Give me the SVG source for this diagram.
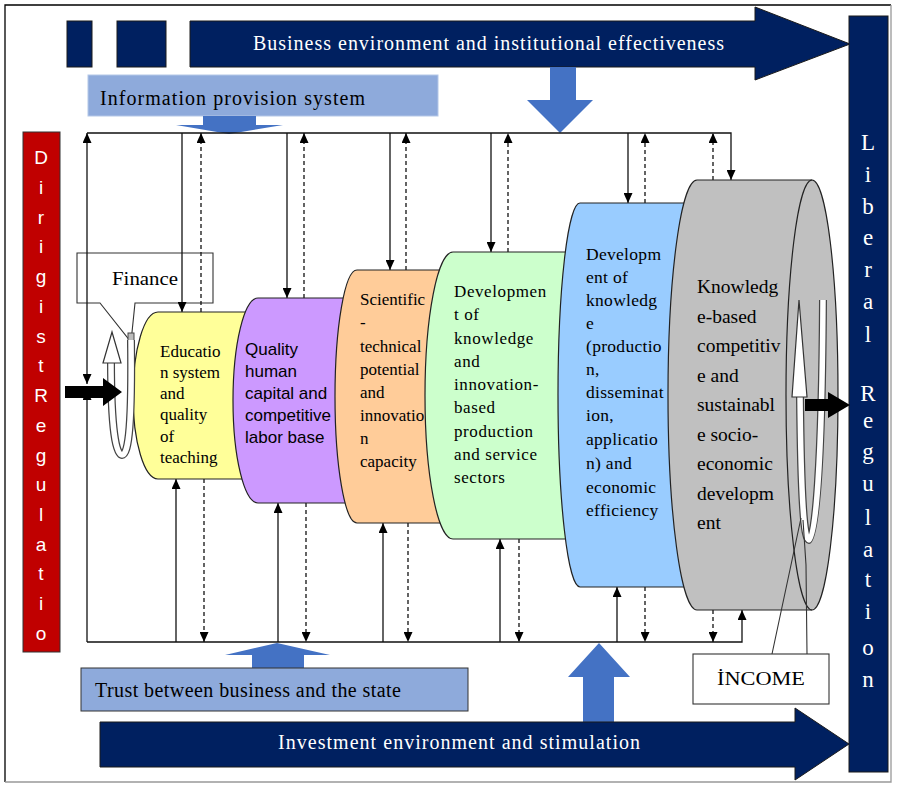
<svg xmlns="http://www.w3.org/2000/svg" width="899" height="786" viewBox="0 0 899 786">
<style>
.navy{fill:#002060;stroke:#1a1a1a;stroke-width:1}
.lb{fill:#8eaadb}
.ba{fill:#4472c4}
.ln{fill:none;stroke:#111;stroke-width:1.3}
.dl{fill:none;stroke:#111;stroke-width:1.3;stroke-dasharray:4,3}
.sh{stroke:#222;stroke-width:1.2}
.ser{font-family:"Liberation Serif",serif;fill:#000}
.sans{font-family:"Liberation Sans",sans-serif;fill:#000}
.wl{font-family:"Liberation Sans",sans-serif;fill:#fff;font-size:19px;text-anchor:middle}
.wr{font-family:"Liberation Serif",serif;fill:#fff;font-size:23px;text-anchor:middle}
.rib1{fill:none;stroke:#444;stroke-width:8}
.rib2{fill:none;stroke:#fff;stroke-width:5.5}
</style>
<defs>
<marker id="ah" viewBox="0 0 10 9" refX="10" refY="4.5" markerWidth="10" markerHeight="9" orient="auto-start-reverse" markerUnits="userSpaceOnUse"><path d="M0,0 L10,4.5 L0,9 z" fill="#000"/></marker>
</defs>
<rect width="899" height="786" fill="#fff"/>
<path d="M5,782 V5 H891" fill="none" stroke="#000" stroke-width="1.3"/>
<path d="M891,5 V782 H5" fill="none" stroke="#999" stroke-width="1.3"/>

<g id="business-environment">
<rect class="navy" x="67" y="21" width="25" height="46"/>
<rect class="navy" x="117" y="21" width="49" height="46"/>
<polygon class="navy" points="190,21 755,21 755,7 850,44 755,80 755,67 190,67"/>
<text x="253" y="50" font-family="Liberation Serif,serif" font-size="20" fill="#fff" textLength="471" lengthAdjust="spacing">Business environment and institutional effectiveness</text>
<polygon class="ba" points="550,67 576,67 576,100 593,100 560,133 527,100 550,100"/>
</g>

<g id="information-provision">
<rect class="lb" x="88" y="75" width="350" height="41" stroke="#b4c7e7" stroke-width="1"/>
<text class="ser" x="100" y="105" font-size="20" textLength="265" lengthAdjust="spacing">Information provision system</text>
<polygon class="ba" points="203,116 256,116 256,125 283,125 229,134 176,125 203,125"/>
</g>

<g id="dirigist-regulation">
<rect x="23" y="132" width="37" height="520" fill="#c00000" stroke="#333" stroke-width="1"/>
<text class="wl"><tspan x="41" y="164">D</tspan><tspan x="41" y="194">i</tspan><tspan x="41" y="224">r</tspan><tspan x="41" y="253">i</tspan><tspan x="41" y="283">g</tspan><tspan x="41" y="313">i</tspan><tspan x="41" y="343">s</tspan><tspan x="41" y="372">t</tspan><tspan x="41" y="402">R</tspan><tspan x="41" y="432">e</tspan><tspan x="41" y="462">g</tspan><tspan x="41" y="491">u</tspan><tspan x="41" y="521">l</tspan><tspan x="41" y="551">a</tspan><tspan x="41" y="580">t</tspan><tspan x="41" y="610">i</tspan><tspan x="41" y="640">o</tspan></text>
</g>

<g id="liberal-regulation">
<rect class="navy" x="849" y="16" width="39" height="756"/>
<text class="wr"><tspan x="868" y="150">L</tspan><tspan x="868" y="182">i</tspan><tspan x="868" y="214">b</tspan><tspan x="868" y="245">e</tspan><tspan x="868" y="277">r</tspan><tspan x="868" y="309">a</tspan><tspan x="868" y="342">l</tspan><tspan x="868" y="401">R</tspan><tspan x="868" y="428">e</tspan><tspan x="868" y="459">g</tspan><tspan x="868" y="491">u</tspan><tspan x="868" y="525">l</tspan><tspan x="868" y="557">a</tspan><tspan x="868" y="587">t</tspan><tspan x="868" y="619">i</tspan><tspan x="868" y="655">o</tspan><tspan x="868" y="687">n</tspan></text>
</g>

<g id="finance">
<path d="M77,253 H213 V303 H135 L131,342 L100,303 H77 Z" fill="#fff" stroke="#333" stroke-width="1.1"/>
<text class="ser" x="112" y="285" font-size="19" textLength="66" lengthAdjust="spacingAndGlyphs">Finance</text>
</g>

<g id="connectors">
<path class="ln" d="M87,384 V133" marker-start="url(#ah)" marker-end="url(#ah)"/>
<path class="ln" d="M87,642 V390" marker-end="url(#ah)"/>
<path class="ln" d="M87,133 H731 V180" marker-end="url(#ah)"/>
<path class="ln" d="M87,642 H742 V610" marker-end="url(#ah)"/>
<path class="ln" d="M182,133 V312" marker-end="url(#ah)"/>
<path class="dl" d="M201,312 V133" marker-end="url(#ah)"/>
<path class="ln" d="M287,133 V298" marker-end="url(#ah)"/>
<path class="dl" d="M304,298 V133" marker-end="url(#ah)"/>
<path class="ln" d="M390,133 V270" marker-end="url(#ah)"/>
<path class="dl" d="M406,270 V133" marker-end="url(#ah)"/>
<path class="ln" d="M491,133 V252" marker-end="url(#ah)"/>
<path class="dl" d="M508,252 V133" marker-end="url(#ah)"/>
<path class="ln" d="M628,133 V203" marker-end="url(#ah)"/>
<path class="dl" d="M645,203 V133" marker-end="url(#ah)"/>
<path class="dl" d="M713,180 V133" marker-end="url(#ah)"/>
<path class="ln" d="M176,642 V479" marker-end="url(#ah)"/>
<path class="dl" d="M204,479 V642" marker-end="url(#ah)"/>
<path class="ln" d="M278,642 V503" marker-end="url(#ah)"/>
<path class="dl" d="M306,503 V642" marker-end="url(#ah)"/>
<path class="ln" d="M383,642 V523" marker-end="url(#ah)"/>
<path class="dl" d="M408,523 V642" marker-end="url(#ah)"/>
<path class="ln" d="M500,642 V539" marker-end="url(#ah)"/>
<path class="dl" d="M519,539 V642" marker-end="url(#ah)"/>
<path class="ln" d="M617,642 V587" marker-end="url(#ah)"/>
<path class="dl" d="M645,587 V642" marker-end="url(#ah)"/>
<path class="dl" d="M713,610 V642" marker-end="url(#ah)"/>
</g>

<g id="education">
<path class="sh" fill="#ffff99" d="M158,312 H275 V479 H158 A25,83.5 0 0 1 158,312 Z"/>
<text class="ser" font-size="17"><tspan x="160" y="357">Educatio</tspan><tspan x="160" y="378">n system</tspan><tspan x="160" y="399">and</tspan><tspan x="160" y="420">quality</tspan><tspan x="160" y="442">of</tspan><tspan x="160" y="463">teaching</tspan></text>
</g>
<g id="human-capital">
<path class="sh" fill="#cc99ff" d="M258,298 H375 V503 H258 A25,102.5 0 0 1 258,298 Z"/>
<text class="sans" font-size="17"><tspan x="245" y="355">Quality</tspan><tspan x="245" y="377">human</tspan><tspan x="245" y="399">capital and</tspan><tspan x="245" y="421">competitive</tspan><tspan x="245" y="443">labor base</tspan></text>
</g>
<g id="scientific-technical">
<path class="sh" fill="#ffcc99" d="M357,270 H475 V523 H357 A22,126.5 0 0 1 357,270 Z"/>
<text class="ser" font-size="17"><tspan x="360" y="305">Scientific</tspan><tspan x="360" y="328">-</tspan><tspan x="360" y="352">technical</tspan><tspan x="360" y="375">potential</tspan><tspan x="360" y="398">and</tspan><tspan x="360" y="421">innovatio</tspan><tspan x="360" y="444">n</tspan><tspan x="360" y="467">capacity</tspan></text>
</g>
<g id="knowledge-sectors">
<path class="sh" fill="#ccffcc" d="M453,252 H605 V539 H453 A28,143.5 0 0 1 453,252 Z"/>
<text class="ser" font-size="17" letter-spacing="0.6"><tspan x="454" y="297">Developmen</tspan><tspan x="454" y="320">t of</tspan><tspan x="454" y="343.5">knowledge</tspan><tspan x="454" y="366.5">and</tspan><tspan x="454" y="390">innovation-</tspan><tspan x="454" y="413">based</tspan><tspan x="454" y="436.5">production</tspan><tspan x="454" y="460">and service</tspan><tspan x="454" y="483">sectors</tspan></text>
</g>
<g id="knowledge-efficiency">
<path class="sh" fill="#99ccff" d="M580,203 H725 V587 H580 A22,192 0 0 1 580,203 Z"/>
<text class="ser" font-size="17.5" letter-spacing="0.3"><tspan x="586" y="260">Developm</tspan><tspan x="586" y="283">ent of</tspan><tspan x="586" y="306">knowledg</tspan><tspan x="586" y="329">e</tspan><tspan x="586" y="352">(productio</tspan><tspan x="586" y="375">n,</tspan><tspan x="586" y="398">disseminat</tspan><tspan x="586" y="421">ion,</tspan><tspan x="586" y="445">applicatio</tspan><tspan x="586" y="469">n) and</tspan><tspan x="586" y="493">economic</tspan><tspan x="586" y="516">efficiency</tspan></text>
</g>
<g id="sustainable-development">
<path class="sh" fill="#c0c0c0" d="M697,180 H812 A26,215 0 0 1 812,610 H697 A29,215 0 0 1 697,180 Z"/>
<path class="sh" fill="none" d="M812,180 A26,215 0 0 0 812,610"/>
<text class="ser" font-size="19.5"><tspan x="697" y="293">Knowledg</tspan><tspan x="697" y="322.5">e-based</tspan><tspan x="697" y="352">competitiv</tspan><tspan x="697" y="381.5">e and</tspan><tspan x="697" y="411">sustainabl</tspan><tspan x="697" y="440.5">e socio-</tspan><tspan x="697" y="470">economic</tspan><tspan x="697" y="499.5">developm</tspan><tspan x="697" y="529">ent</tspan></text>
</g>

<g id="left-spring">
<rect x="128" y="333" width="6" height="14" fill="#bbb" stroke="#444" stroke-width="1"/>
<path class="rib1" d="M111,360 C111,430 116,455 122,455 C129,455 132,420 131,340"/>
<path class="rib2" d="M111,360 C111,430 116,455 122,455 C129,455 132,420 131,340"/>
<polygon points="112,332 103,363 121,363" fill="#fff" stroke="#333" stroke-width="1.2"/>
<polygon points="65,386 103,386 103,378 122,392 103,406 103,398 65,398" fill="#000"/>
</g>

<g id="right-spring">
<path class="rib1" d="M800,395 C801,500 804,540 809,540 C815,540 822,470 823,300"/>
<path class="rib2" d="M800,395 C801,500 804,540 809,540 C815,540 822,470 823,300"/>
<polygon points="799,300 792,397 807,397" fill="#fff" stroke="#333" stroke-width="1.2"/>
<polygon points="805,399 828,399 828,392 850,405 828,418 828,411 805,411" fill="#000"/>
</g>

<g id="income">
<path d="M772,654 L801,518 M807,654 L806,565 L803,520" fill="none" stroke="#333" stroke-width="1.1"/>
<rect x="693" y="654" width="136" height="50" fill="#fff" stroke="#333" stroke-width="1.1"/>
<text class="ser" x="717" y="685" font-size="19" textLength="88" lengthAdjust="spacingAndGlyphs">İNCOME</text>
</g>

<g id="investment-environment">
<polygon class="ba" points="583,725 583,677 568,677 599,643 630,677 614,677 614,725"/>
<polygon class="navy" points="100,722 795,722 795,708 849,744 795,780 795,767 100,767"/>
<text x="278" y="749" font-family="Liberation Serif,serif" font-size="20" fill="#fff" textLength="362" lengthAdjust="spacing">Investment environment and stimulation</text>
</g>

<g id="trust">
<polygon class="ba" points="252,669 252,655 225,655 277,643 330,655 304,655 304,669"/>
<rect class="lb" x="81" y="668" width="387" height="43" stroke="#333" stroke-width="1"/>
<text class="ser" x="95" y="697" font-size="20" textLength="306" lengthAdjust="spacing">Trust between business and the state</text>
</g>
</svg>
